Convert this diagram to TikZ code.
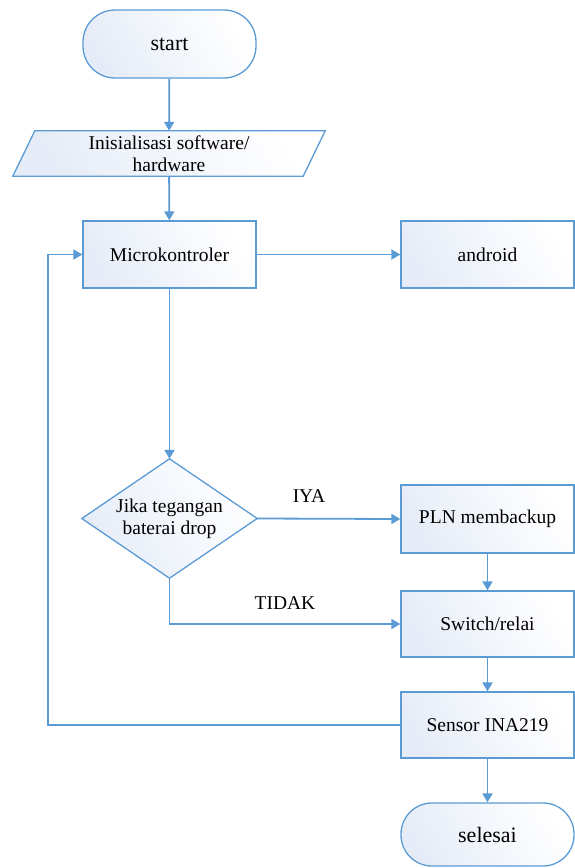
\documentclass[tikz,border=0pt]{standalone}
\usepackage{fontspec}
\setmainfont{Liberation Serif}
\usetikzlibrary{shapes.geometric,arrows.meta}
\definecolor{lineblue}{RGB}{91,155,213}
\definecolor{fillblue}{RGB}{230,236,247}
\begin{document}
\begin{tikzpicture}[x=1pt,y=-1pt,
  every node/.style={font=\fontsize{19.5}{22}\selectfont},
  shade/.style={left color=fillblue,right color=white,shading angle=120},
  outline/.style={draw=lineblue,line width=1.3pt,shade},
  procbox/.style={outline,rectangle,minimum width=173pt,minimum height=67pt,inner sep=0pt,align=center},
  termbox/.style={procbox,rounded corners=32pt,font=\fontsize{22}{24}\selectfont},
  arr/.style={draw=lineblue,line width=1.8pt,-{Triangle[width=10pt,length=9pt,fill=lineblue]}},
  lbl/.style={font=\fontsize{19.5}{22}\selectfont}
]
\useasboundingbox (0,0) rectangle (575,868);
\node[termbox,minimum height=68pt] (start) at (169.5,44) {start};
\node[minimum width=290pt,minimum height=45pt,inner sep=0pt] (init) at (169,153.5) {};
\draw[outline]
  ([xshift=-11pt]init.south west) -- ([xshift=11pt]init.north west) --
  ([xshift=11pt]init.north east) -- ([xshift=-11pt]init.south east) -- cycle;
\node[align=center] at (init.center) {Inisialisasi software/\\hardware};
\node[procbox] (micro) at (169.5,254.5) {Microkontroler};
\node[procbox] (android) at (487.5,254.5) {android};
\node[minimum width=175pt,minimum height=119pt,inner sep=0pt] (dec) at (169.5,518.5) {};
\draw[outline] (dec.north) -- (dec.east) -- (dec.south) -- (dec.west) -- cycle;
\node[align=center] at (dec.center) {Jika tegangan\\baterai drop};
\node[procbox,minimum height=68pt] (pln) at (487.5,519) {PLN membackup};
\node[procbox,minimum height=66pt] (switch) at (487.5,624) {Switch/relai};
\node[procbox,minimum height=66pt] (sensor) at (487.5,725) {Sensor INA219};
\node[termbox,minimum height=63pt,rounded corners=31pt] (selesai) at (487.5,834.5) {selesai};
\coordinate (loop) at (48,725);

\draw[arr] (start) -- (init);
\draw[arr] (init) -- (micro);
\draw[arr] (micro) -- (android);
\draw[arr] (micro) -- (dec.north);
\draw[arr] (dec.east) -- (pln.west);
\node[lbl] (iya) at (309,496) {IYA};
\draw[arr] (dec.south) |- (switch.west);
\node[lbl] (tidak) at (285,603) {TIDAK};
\draw[arr] (pln) -- (switch);
\draw[arr] (switch) -- (sensor);
\draw[arr] (sensor) -- (selesai);
\draw[arr] (sensor.west) -- (loop) |- (micro.west);
\end{tikzpicture}
\end{document}
